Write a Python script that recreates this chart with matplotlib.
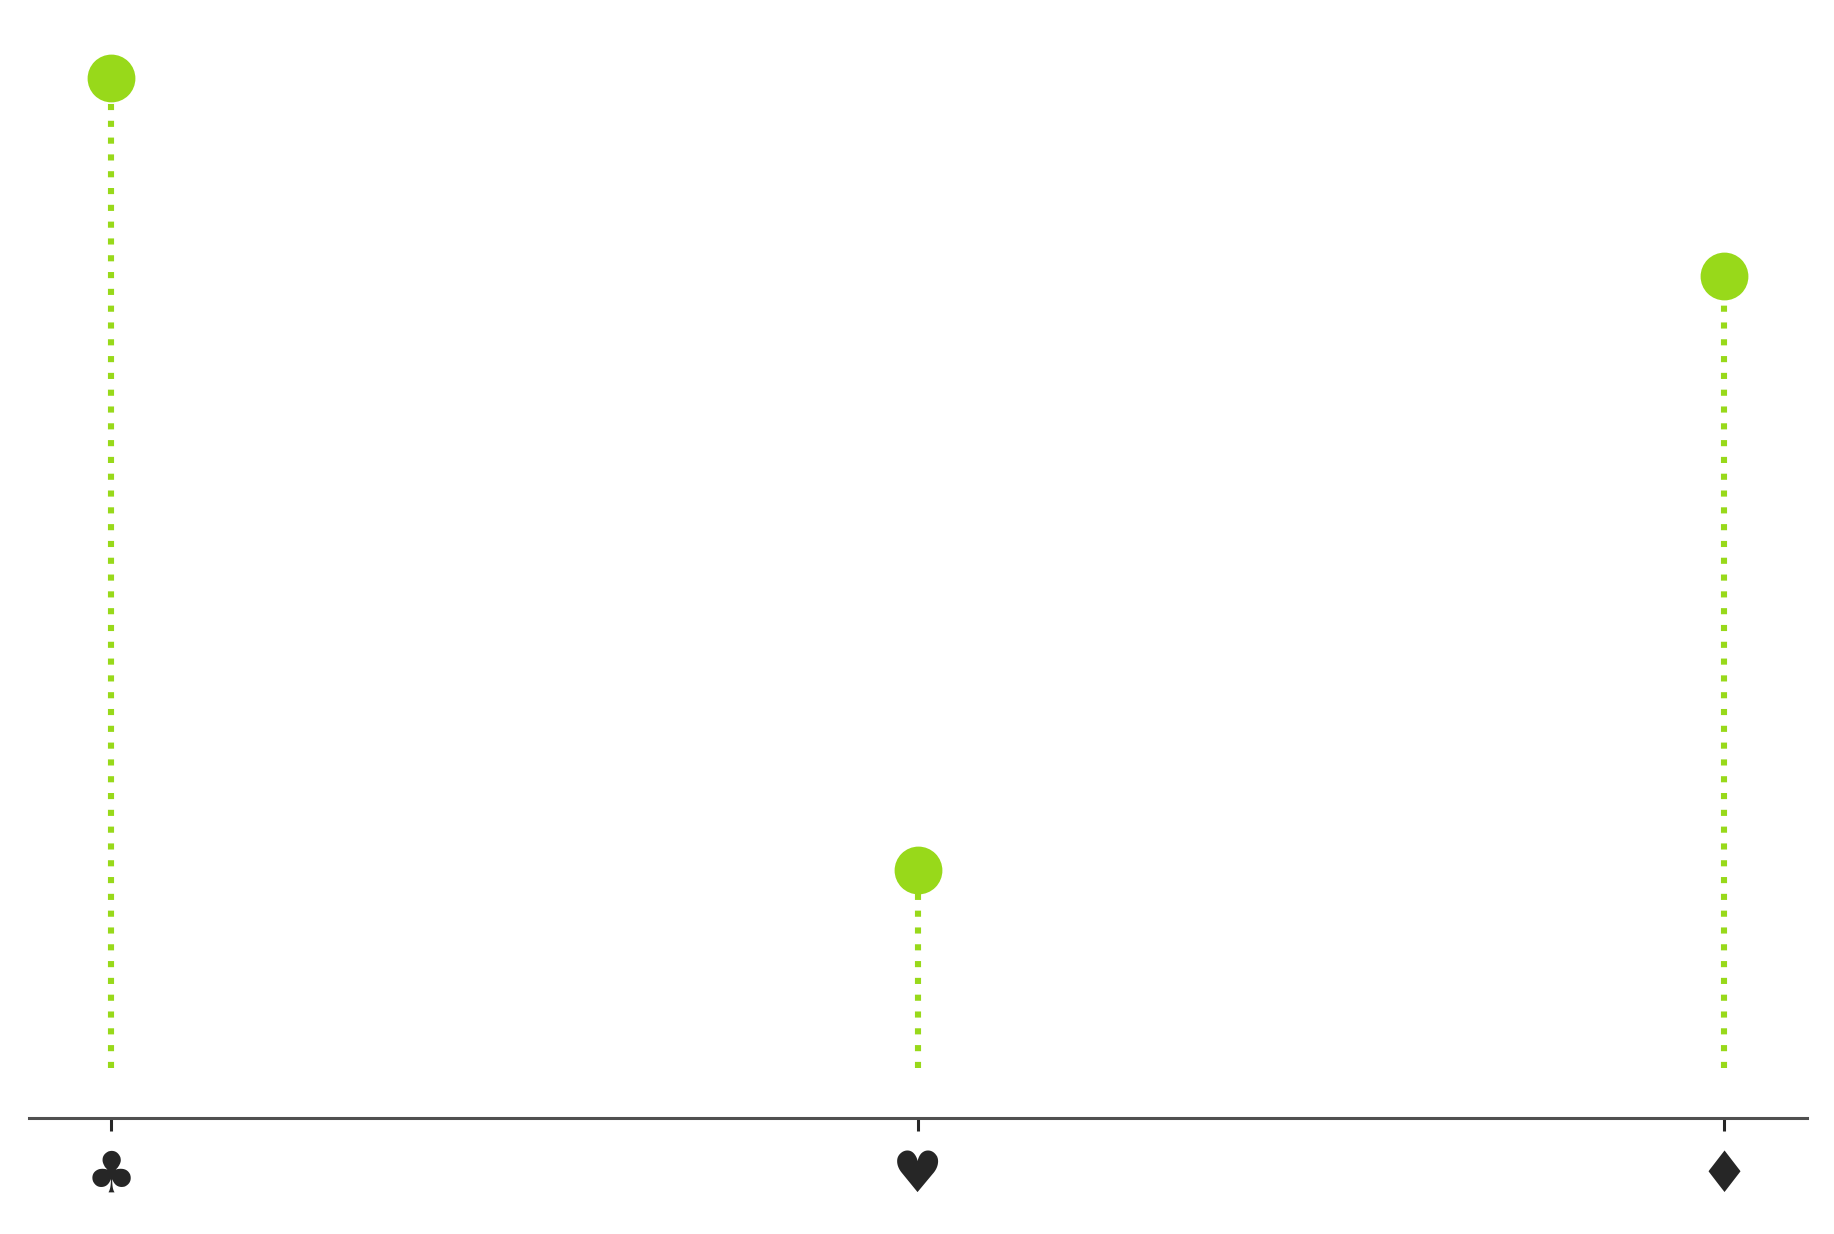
import matplotlib
matplotlib.use("Agg")
import matplotlib.pyplot as plt

# data
suits = ["\u2663", "\u2665", "\u2666"]
values = [5, 1, 4]

green = "#98d91a"
ink = "#262626"

fig = plt.figure(figsize=(9.17, 6.17), dpi=200)
ax = fig.add_axes([0.0158, 0.094, 0.9695, 0.883])

x = list(range(len(suits)))
for xi, v in zip(x, values):
    ax.plot([xi, xi], [0, v], color=green, linewidth=2.2,
            linestyle=(0, (1, 1.75)), zorder=2)
ax.plot(x, values, "o", color=green, markersize=16.2, zorder=3)

ax.set_xlim(-0.102, 2.103)
ax.set_ylim(-0.2525, 5.25)
ax.set_xticks(x)
ax.set_xticklabels(suits, fontsize=20.5, color=ink)
ax.set_yticks([])

for s in ["top", "right", "left"]:
    ax.spines[s].set_visible(False)
ax.spines["bottom"].set_color("#505050")
ax.spines["bottom"].set_linewidth(1.1)
ax.tick_params(axis="x", length=4.7, width=1.1, color=ink, pad=6.5)

fig.savefig("out.png", dpi=200, facecolor="white")
